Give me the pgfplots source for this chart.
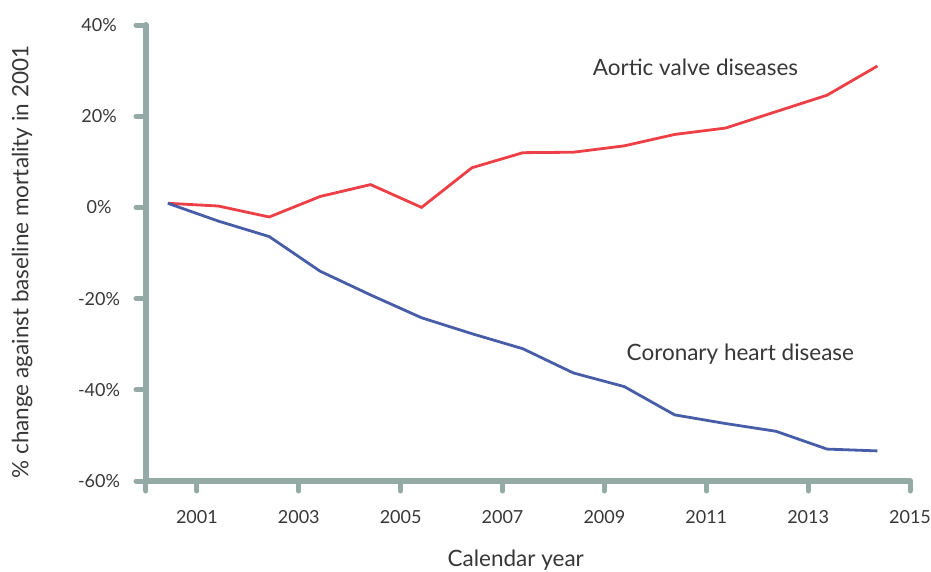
\documentclass[border=0pt]{standalone}
\usepackage{pgfplots}
\pgfplotsset{compat=1.18}
\usepackage{fontspec}
\setmainfont{Lato}
\definecolor{axisgray}{RGB}{147,170,165}
\definecolor{txt}{RGB}{55,55,55}
\definecolor{redl}{RGB}{236,64,70}
\definecolor{bluel}{RGB}{72,93,168}
\begin{document}
\begin{tikzpicture}
\begin{axis}[
  name=ax,
  scale only axis,
  width=764bp, height=456bp,
  xmin=2000, xmax=2015, ymin=-60, ymax=40,
  axis x line=bottom, axis y line=left,
  axis line style={-, line width=6bp, color=axisgray, line cap=round},
  tick align=outside,
  major tick length=10bp,
  tick style={line width=5bp, color=axisgray, line cap=round},
  xtick={2000,2001,2003,2005,2007,2009,2011,2013,2015},
  xticklabels={,2001,2003,2005,2007,2009,2011,2013,2015},
  ytick={-60,-40,-20,0,20,40},
  yticklabels={-60\%,-40\%,-20\%,0\%,20\%,40\%},
  minor tick num=0,
  ticklabel style={font=\fontsize{18bp}{21bp}\selectfont, text=txt},
  xticklabel style={anchor=center, yshift=-26bp},
  yticklabel style={anchor=center, xshift=-37bp},
  xlabel={Calendar year},
  ylabel={\% change against baseline mortality in 2001},
  label style={font=\fontsize{22.5bp}{26bp}\selectfont, text=txt},
  xlabel style={at={(axis description cs:0.484,-0.173)}, anchor=center},
  ylabel style={at={(axis description cs:-0.162,0.48)}, anchor=center},
  clip=false,
]
\addplot[redl, line width=2.8bp] coordinates {
(2000.43,0.9) (2001.42,0.3) (2002.42,-2.1) (2003.42,2.4) (2004.41,5.0)
(2005.41,0.0) (2006.40,8.7) (2007.40,12.0) (2008.39,12.1) (2009.39,13.5)
(2010.38,16.0) (2011.38,17.4) (2012.37,21.0) (2013.37,24.6) (2014.36,31.0)
};
\addplot[bluel, line width=2.8bp] coordinates {
(2000.43,0.9) (2001.42,-3.0) (2002.42,-6.4) (2003.42,-14.0) (2004.41,-19.2)
(2005.41,-24.2) (2006.40,-27.7) (2007.40,-31.0) (2008.39,-36.3) (2009.39,-39.3)
(2010.38,-45.5) (2011.38,-47.4) (2012.37,-49.1) (2013.37,-53.0) (2014.36,-53.4)
};
\node[font=\fontsize{22.5bp}{26bp}\selectfont, text=txt] at (axis cs:2010.79,30.7) {Aortic valve diseases};
\node[font=\fontsize{22.5bp}{26bp}\selectfont, text=txt] at (axis cs:2011.67,-32.2) {Coronary heart disease};
\end{axis}
\pgfresetboundingbox
\path[use as bounding box] ([shift={(-146bp,-91bp)}]ax.south west) rectangle ([shift={(785bp,481bp)}]ax.south west);
\end{tikzpicture}
\end{document}
